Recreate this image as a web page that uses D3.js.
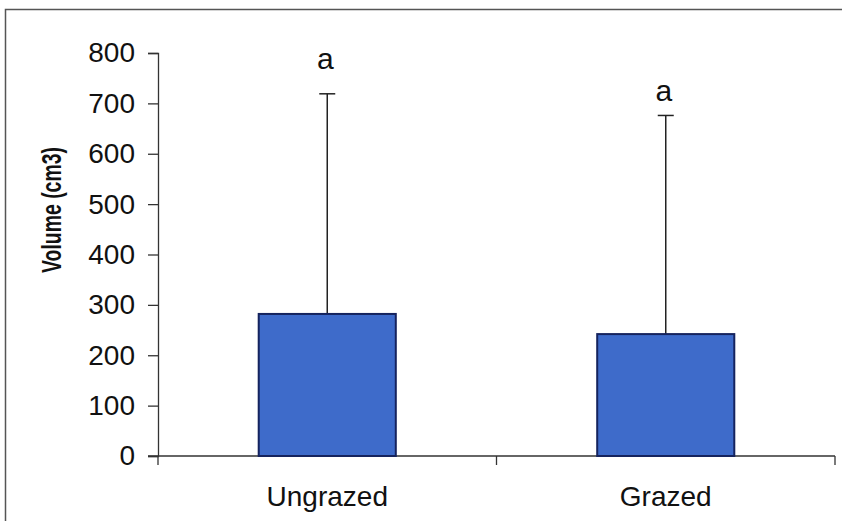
<!DOCTYPE html>
<html>
<head>
<meta charset="utf-8">
<script src="https://cdn.jsdelivr.net/npm/d3@7"></script>
<style>
  body { margin: 0; background: #fff; }
  svg { display: block; font-family: "Liberation Sans", Arial, sans-serif; }
</style>
</head>
<body>
<svg width="842" height="521"></svg>
<script>
// chart data
const categories = ['Ungrazed', 'Grazed'];
const means = [282, 242];
const errors = [437, 434];
const letters = ['a', 'a'];
const yTicks = [0, 100, 200, 300, 400, 500, 600, 700, 800];

const svg = d3.select('svg');

// outer frame (right and bottom edge are off the picture)
svg.append('path')
  .attr('d', 'M5.5,521 V9.5 H842')
  .attr('fill', 'none')
  .attr('stroke', '#555')
  .attr('stroke-width', 1.5);

const x = d3.scaleBand()
  .domain(categories)
  .range([158, 835])
  .paddingInner(0.595)
  .paddingOuter(0.2975);

const y = d3.scaleLinear()
  .domain([0, 800])
  .range([456, 53]);

// y axis
const yAxis = svg.append('g')
  .attr('transform', 'translate(158,0)')
  .call(d3.axisLeft(y).tickValues(yTicks).tickSize(10).tickPadding(13));
yAxis.select('.domain').attr('stroke', '#333').attr('stroke-width', 1.3);
yAxis.selectAll('.tick line').attr('stroke', '#333').attr('stroke-width', 1.3);
yAxis.selectAll('.tick text')
  .attr('font-size', 28)
  .attr('fill', '#111')
  .attr('font-family', '"Liberation Sans", Arial, sans-serif');

// x axis line + boundary ticks
const boundaries = [x.range()[0]].concat(
  categories.map(c => x(c) + x.bandwidth() + x.step() * x.paddingInner() / 2));

svg.append('line')
  .attr('x1', 148).attr('x2', x.range()[1])
  .attr('y1', y(0)).attr('y2', y(0))
  .attr('stroke', '#333').attr('stroke-width', 1.3);

svg.append('g')
  .selectAll('line')
  .data(boundaries)
  .enter()
  .append('line')
  .attr('x1', d => d).attr('x2', d => d)
  .attr('y1', y(0)).attr('y2', y(0) + 9)
  .attr('stroke', '#333').attr('stroke-width', 1.3);

const xAxis = svg.append('g')
  .attr('transform', `translate(0,${y(0)})`)
  .call(d3.axisBottom(x).tickSize(0).tickPadding(30));
xAxis.select('.domain').remove();
xAxis.selectAll('.tick text')
  .attr('font-size', 28)
  .attr('fill', '#111')
  .attr('font-family', '"Liberation Sans", Arial, sans-serif');

// error bars
const rows = categories.map((c, i) => ({cat: c, mean: means[i], err: errors[i], letter: letters[i]}));
const letterGap = [25, 14];

const err = svg.append('g').selectAll('g')
  .data(rows)
  .enter()
  .append('g');

err.append('line')
  .attr('x1', d => x(d.cat) + x.bandwidth() / 2)
  .attr('x2', d => x(d.cat) + x.bandwidth() / 2)
  .attr('y1', d => y(d.mean))
  .attr('y2', d => y(d.mean + d.err))
  .attr('stroke', '#222').attr('stroke-width', 1.5);

err.append('line')
  .attr('x1', d => x(d.cat) + x.bandwidth() / 2 - 8)
  .attr('x2', d => x(d.cat) + x.bandwidth() / 2 + 8)
  .attr('y1', d => y(d.mean + d.err))
  .attr('y2', d => y(d.mean + d.err))
  .attr('stroke', '#222').attr('stroke-width', 1.5);

err.append('text')
  .attr('x', d => x(d.cat) + x.bandwidth() / 2 - 2)
  .attr('y', (d, i) => y(d.mean + d.err) - letterGap[i])
  .attr('text-anchor', 'middle')
  .attr('font-size', 30)
  .attr('fill', '#111')
  .text(d => d.letter);

// bars
svg.append('g').selectAll('rect')
  .data(rows)
  .enter()
  .append('rect')
  .attr('x', d => x(d.cat))
  .attr('y', d => y(d.mean))
  .attr('width', x.bandwidth())
  .attr('height', d => y(0) - y(d.mean))
  .attr('fill', '#3e6bca')
  .attr('stroke', '#15235e')
  .attr('stroke-width', 2);

// y title
svg.append('text')
  .attr('transform', 'translate(61,210) rotate(-90)')
  .attr('text-anchor', 'middle')
  .attr('font-size', 28)
  .attr('font-weight', 'bold')
  .attr('fill', '#111')
  .attr('textLength', 126)
  .attr('lengthAdjust', 'spacingAndGlyphs')
  .text('Volume (cm3)');
</script>
</body>
</html>
